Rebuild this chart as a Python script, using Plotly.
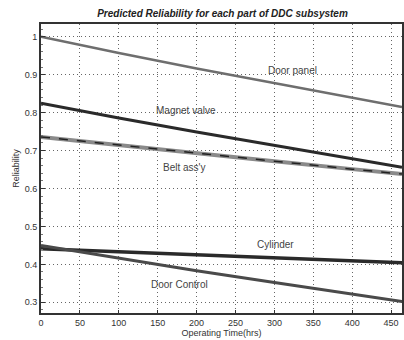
import plotly.graph_objects as go

t = [0, 100, 200, 300, 400, 464]
door_panel = [1.0, 0.957, 0.916, 0.877, 0.838, 0.815]
magnet_valve = [0.825, 0.786, 0.749, 0.714, 0.678, 0.656]
belt_assy = [0.736, 0.714, 0.693, 0.672, 0.651, 0.638]
cylinder = [0.441, 0.433, 0.425, 0.417, 0.409, 0.404]
door_control = [0.450, 0.416, 0.383, 0.352, 0.322, 0.302]

labels = ["Door panel", "Magnet valve", "Belt ass'y", "Cylinder", "Door Control"]
label_x = [323, 186, 184, 302, 178]
label_y = [0.912, 0.805, 0.655, 0.453, 0.347]

fig = go.Figure()
fig.add_trace(go.Scatter(x=t, y=door_panel, mode="lines", line=dict(color="#6e6e6e", width=2.5)))
fig.add_trace(go.Scatter(x=t, y=magnet_valve, mode="lines", line=dict(color="#2a2a2a", width=3)))
fig.add_trace(go.Scatter(x=t, y=belt_assy, mode="lines", line=dict(color="#8a8a8a", width=4)))
fig.add_trace(go.Scatter(x=t, y=belt_assy, mode="lines", line=dict(color="#222222", width=1.5, dash="dash")))
fig.add_trace(go.Scatter(x=t, y=cylinder, mode="lines", line=dict(color="#2a2a2a", width=3.5)))
fig.add_trace(go.Scatter(x=t, y=door_control, mode="lines", line=dict(color="#4a4a4a", width=3)))

for lab, lx, ly in zip(labels, label_x, label_y):
    fig.add_annotation(x=lx, y=ly, text=lab, showarrow=False,
                       font=dict(family="Liberation Sans, Arial", size=10, color="#444"))

fig.update_layout(
    width=404, height=340,
    margin=dict(l=41, r=0, t=24, b=27),
    paper_bgcolor="white", plot_bgcolor="white",
    showlegend=False,
    title=dict(text="<b><i>Predicted Reliability for each part of DDC subsystem</i></b>",
               x=(41 + 404) / 2 / 404, xanchor="center", y=1 - 13 / 340, yanchor="middle",
               font=dict(family="Liberation Sans, Arial", size=10, color="#222")),
    font=dict(family="Liberation Sans, Arial", size=9, color="#333"),
)
fig.update_xaxes(
    range=[0, 464], tickvals=[0, 50, 100, 150, 200, 250, 300, 350, 400, 450],
    showgrid=True, gridcolor="#666", griddash="1px,3px", gridwidth=1,
    showline=True, linecolor="#333", linewidth=2, mirror=True,
    ticks="inside", ticklen=3, tickcolor="#333", zeroline=False,
    title=dict(text="Operating Time(hrs)", standoff=2, font=dict(size=9)),
)
fig.update_yaxes(
    range=[0.2718, 1.0335], tickvals=[0.3, 0.4, 0.5, 0.6, 0.7, 0.8, 0.9, 1.0],
    ticktext=["0.3", "0.4", "0.5", "0.6", "0.7", "0.8", "0.9", "1"],
    showgrid=True, gridcolor="#666", griddash="1px,3px", gridwidth=1,
    showline=True, linecolor="#333", linewidth=2, mirror=True,
    ticks="inside", ticklen=4, tickcolor="#333", zeroline=False,
    minor=dict(ticks="inside", ticklen=2, dtick=0.02, tickcolor="#777", showgrid=False),
    title=dict(text="Reliability", standoff=4, font=dict(size=9)),
)

fig.write_html("out.html")
